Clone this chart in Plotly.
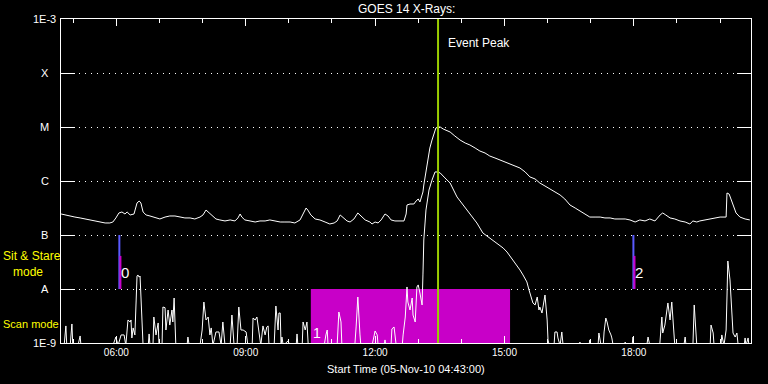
import math
import pandas as pd
import plotly.graph_objects as go

DAY = "2010-11-05"

# GOES 14 long channel (1-8 A): (hour UT, flux W/m^2)
long_xray = [
    (4.72, 2.45e-7), (4.81, 2.35e-7), (4.93, 2.25e-7), (5.04, 2.15e-7), (5.16, 2.07e-7),
    (5.27, 1.98e-7), (5.39, 1.90e-7), (5.51, 1.82e-7), (5.62, 1.74e-7), (5.74, 1.67e-7),
    (5.85, 1.67e-7), (5.92, 1.74e-7), (5.99, 2.07e-7), (6.06, 2.56e-7), (6.13, 2.67e-7),
    (6.20, 2.45e-7), (6.25, 2.67e-7), (6.32, 2.35e-7), (6.41, 2.45e-7), (6.48, 3.92e-7),
    (6.53, 4.26e-7), (6.57, 3.92e-7), (6.62, 2.67e-7), (6.69, 2.35e-7), (6.78, 2.25e-7),
    (6.90, 2.07e-7), (7.01, 1.98e-7), (7.13, 2.15e-7), (7.24, 2.25e-7), (7.36, 2.25e-7),
    (7.48, 2.15e-7), (7.59, 2.07e-7), (7.71, 2.07e-7), (7.82, 1.98e-7), (7.94, 2.15e-7),
    (8.01, 2.35e-7), (8.08, 2.90e-7), (8.13, 2.67e-7), (8.22, 2.25e-7), (8.31, 1.98e-7),
    (8.40, 1.90e-7), (8.52, 1.82e-7), (8.64, 1.90e-7), (8.75, 1.82e-7), (8.82, 2.07e-7),
    (8.87, 2.45e-7), (8.91, 2.15e-7), (8.98, 1.90e-7), (9.10, 1.82e-7), (9.22, 1.74e-7),
    (9.33, 1.82e-7), (9.45, 1.82e-7), (9.56, 1.90e-7), (9.68, 1.82e-7), (9.80, 1.74e-7),
    (9.91, 1.74e-7), (10.03, 1.74e-7), (10.14, 1.67e-7), (10.26, 1.90e-7), (10.33, 2.45e-7),
    (10.40, 3.16e-7), (10.44, 2.90e-7), (10.51, 2.35e-7), (10.61, 1.98e-7), (10.72, 1.90e-7),
    (10.84, 1.74e-7), (10.95, 1.60e-7), (11.05, 1.67e-7), (11.12, 1.82e-7), (11.19, 2.35e-7),
    (11.26, 2.07e-7), (11.35, 1.82e-7), (11.42, 1.74e-7), (11.51, 1.98e-7), (11.60, 2.56e-7),
    (11.67, 2.25e-7), (11.77, 1.90e-7), (11.88, 1.74e-7), (11.93, 1.60e-7), (12.00, 1.74e-7),
    (12.07, 1.67e-7), (12.14, 1.90e-7), (12.23, 2.45e-7), (12.30, 2.25e-7), (12.37, 1.90e-7),
    (12.46, 1.82e-7), (12.58, 1.82e-7), (12.67, 1.82e-7), (12.72, 2.45e-7), (12.74, 3.59e-7),
    (12.81, 3.75e-7), (12.90, 3.75e-7), (12.95, 4.26e-7), (13.00, 4.64e-7), (13.04, 4.08e-7),
    (13.07, 5.06e-7), (13.11, 6.26e-7), (13.13, 8.43e-7), (13.18, 1.60e-6), (13.23, 2.67e-6),
    (13.27, 4.08e-6), (13.32, 5.74e-6), (13.37, 7.74e-6), (13.41, 9.58e-6), (13.46, 1.00e-5),
    (13.51, 1.00e-5), (13.58, 9.18e-6), (13.65, 8.80e-6), (13.74, 8.08e-6), (13.85, 6.81e-6),
    (13.97, 5.74e-6), (14.09, 5.05e-6), (14.20, 4.64e-6), (14.32, 4.08e-6), (14.43, 3.59e-6),
    (14.55, 3.30e-6), (14.66, 2.90e-6), (14.78, 2.67e-6), (14.90, 2.45e-6), (15.01, 2.25e-6),
    (15.13, 2.07e-6), (15.25, 1.90e-6), (15.36, 1.74e-6), (15.48, 1.47e-6), (15.59, 1.19e-6),
    (15.71, 1.09e-6), (15.82, 9.18e-7), (15.94, 8.08e-7), (16.06, 7.11e-7), (16.17, 6.26e-7),
    (16.29, 5.51e-7), (16.40, 4.64e-7), (16.52, 3.59e-7), (16.64, 3.16e-7), (16.75, 2.78e-7),
    (16.87, 2.45e-7), (16.98, 2.15e-7), (17.10, 2.15e-7), (17.22, 2.15e-7), (17.33, 2.07e-7),
    (17.45, 2.07e-7), (17.56, 1.98e-7), (17.68, 1.98e-7), (17.80, 1.98e-7), (17.91, 1.90e-7),
    (18.03, 1.74e-7), (18.14, 1.90e-7), (18.26, 1.82e-7), (18.37, 1.98e-7), (18.49, 1.82e-7),
    (18.61, 2.35e-7), (18.67, 2.56e-7), (18.74, 2.35e-7), (18.84, 2.07e-7), (18.95, 1.98e-7),
    (19.07, 1.82e-7), (19.19, 1.74e-7), (19.30, 1.60e-7), (19.37, 1.82e-7), (19.46, 1.74e-7),
    (19.53, 1.82e-7), (19.65, 1.90e-7), (19.77, 1.98e-7), (19.88, 2.07e-7), (20.00, 2.15e-7),
    (20.14, 2.15e-7), (20.16, 6.00e-7), (20.21, 5.74e-7), (20.28, 3.92e-7), (20.37, 2.56e-7),
    (20.46, 2.15e-7), (20.58, 1.98e-7), (20.69, 1.90e-7),
]

# GOES 14 short channel (0.5-4 A): (hour UT, flux W/m^2); 9e-10 = below the plot floor
short_xray = [
    (4.72, 9e-10), (4.79, 9e-10), (4.83, 2.07e-9), (4.85, 9e-10), (4.93, 9e-10), (4.97, 2.25e-9),
    (4.99, 9e-10), (5.11, 9e-10), (5.16, 1.35e-9), (5.18, 9e-10), (5.92, 9e-10), (5.99, 1.29e-9),
    (6.04, 9e-10), (6.11, 1.41e-9), (6.18, 1.41e-9), (6.22, 9e-10), (6.27, 2.67e-9), (6.32, 2.45e-9),
    (6.34, 2.67e-9), (6.36, 1.24e-9), (6.39, 1.90e-9), (6.43, 1.41e-9), (6.46, 6.25e-9), (6.48, 1.74e-8),
    (6.50, 1.82e-8), (6.53, 1.66e-8), (6.55, 1.74e-8), (6.57, 7.74e-9), (6.60, 1.74e-9), (6.62, 9e-10),
    (6.74, 9e-10), (6.76, 1.47e-9), (6.78, 9e-10), (6.85, 9e-10), (6.87, 3.03e-9), (6.92, 1.41e-9),
    (6.97, 2.35e-9), (6.99, 9e-10), (7.06, 9e-10), (7.08, 4.64e-9), (7.13, 4.50e-9), (7.15, 1.74e-9),
    (7.20, 4.08e-9), (7.24, 2.15e-9), (7.29, 4.08e-9), (7.31, 2.45e-9), (7.34, 6.81e-9), (7.38, 9e-10),
    (7.64, 9e-10), (7.66, 1.29e-9), (7.69, 9e-10), (7.94, 9e-10), (7.99, 1.74e-9), (8.03, 5.74e-9),
    (8.08, 2.67e-9), (8.13, 3.03e-9), (8.17, 1.41e-9), (8.20, 1.90e-9), (8.24, 9e-10), (8.31, 1.60e-9),
    (8.38, 1.60e-9), (8.43, 9e-10), (8.47, 2.45e-9), (8.52, 9e-10), (8.64, 9e-10), (8.68, 3.30e-9),
    (8.73, 9e-10), (8.80, 9e-10), (8.84, 4.64e-9), (8.89, 1.74e-9), (8.94, 1.74e-9), (9.01, 1.60e-9),
    (9.05, 9e-10), (9.15, 9e-10), (9.17, 2.90e-9), (9.22, 2.67e-9), (9.26, 3.03e-9), (9.31, 1.41e-9),
    (9.35, 9e-10), (9.40, 2.07e-9), (9.45, 1.41e-9), (9.49, 1.98e-9), (9.52, 2.07e-9), (9.54, 9e-10),
    (9.66, 9e-10), (9.70, 4.84e-9), (9.75, 1.74e-9), (9.77, 3.59e-9), (9.80, 3.59e-9), (9.82, 9e-10),
    (9.84, 1.29e-9), (9.87, 9e-10), (9.98, 1.09e-9), (10.03, 9e-10), (10.17, 9e-10), (10.19, 1.47e-9),
    (10.21, 9e-10), (10.31, 9e-10), (10.33, 2.45e-9), (10.38, 1.74e-9), (10.42, 2.45e-9), (10.45, 9e-10),
    (10.82, 9e-10), (10.86, 1.41e-9), (10.89, 1.74e-9), (10.91, 9e-10), (11.12, 9e-10), (11.16, 3.75e-9),
    (11.21, 2.45e-9), (11.23, 9e-10), (11.53, 9e-10), (11.56, 1.98e-9), (11.60, 7.11e-9), (11.65, 1.41e-9),
    (11.67, 9e-10), (11.93, 9e-10), (11.95, 1.09e-9), (12.00, 1.67e-9), (12.05, 1.41e-9), (12.07, 9e-10),
    (12.21, 9e-10), (12.23, 1.14e-9), (12.25, 9e-10), (12.37, 9e-10), (12.39, 1.82e-9), (12.44, 1.98e-9),
    (12.49, 9e-10), (12.63, 9e-10), (12.65, 1.41e-9), (12.70, 3.03e-9), (12.74, 1.09e-8), (12.76, 5.74e-9),
    (12.81, 4.08e-9), (12.86, 6.81e-9), (12.88, 3.30e-9), (12.93, 2.45e-9), (12.97, 1.09e-8), (13.00, 1.19e-8),
    (13.04, 8.43e-9), (13.09, 5.06e-9), (13.11, 1.82e-8), (13.13, 8.08e-8), (13.18, 2.90e-7), (13.25, 6.81e-7),
    (13.32, 1.04e-6), (13.39, 1.47e-6), (13.44, 1.47e-6), (13.51, 1.41e-6), (13.62, 1.14e-6), (13.74, 9.18e-7),
    (13.90, 5.06e-7), (14.13, 2.90e-7), (14.36, 1.67e-7), (14.50, 1.09e-7), (14.66, 8.80e-8), (14.83, 7.11e-8),
    (14.97, 5.74e-8), (15.06, 4.84e-8), (15.20, 3.45e-8), (15.29, 2.78e-8), (15.36, 2.25e-8), (15.43, 1.82e-8),
    (15.52, 1.35e-8), (15.57, 9.58e-9), (15.61, 7.42e-9), (15.66, 5.51e-9), (15.71, 5.06e-9), (15.76, 7.11e-9),
    (15.80, 4.08e-9), (15.82, 4.64e-9), (15.87, 3.59e-9), (15.94, 7.74e-9), (15.99, 2.67e-9), (16.01, 1.14e-9),
    (16.04, 9e-10), (16.15, 9e-10), (16.17, 1.60e-9), (16.22, 1.60e-9), (16.24, 1.24e-9), (16.29, 9e-10),
    (16.33, 1.60e-9), (16.36, 9e-10), (16.73, 9e-10), (16.75, 1.04e-9), (16.77, 9e-10), (16.96, 9e-10),
    (16.98, 1.14e-9), (17.01, 9e-10), (17.17, 9e-10), (17.19, 1.53e-9), (17.24, 9e-10), (17.29, 9e-10),
    (17.31, 1.60e-9), (17.35, 2.90e-9), (17.38, 2.45e-9), (17.42, 1.74e-9), (17.47, 1.41e-9), (17.49, 1.24e-9),
    (17.52, 9e-10), (17.77, 9e-10), (17.80, 1.04e-9), (17.82, 9e-10), (17.96, 9e-10), (17.98, 1.29e-9),
    (18.00, 9e-10), (18.30, 9e-10), (18.33, 1.29e-9), (18.37, 9e-10), (18.60, 9e-10), (18.63, 1.60e-9),
    (18.65, 3.03e-9), (18.67, 1.53e-9), (18.72, 2.15e-9), (18.79, 5.51e-9), (18.84, 2.67e-9), (18.88, 5.74e-9),
    (18.93, 1.90e-9), (18.95, 9e-10), (19.16, 9e-10), (19.19, 1.29e-9), (19.21, 9e-10), (19.37, 9e-10),
    (19.40, 5.06e-9), (19.44, 1.90e-9), (19.46, 9e-10), (19.77, 9e-10), (19.79, 2.15e-9), (19.84, 1.53e-9),
    (19.86, 9e-10), (20.02, 9e-10), (20.04, 1.41e-9), (20.09, 9e-10), (20.14, 1.74e-9), (20.16, 7.11e-9),
    (20.18, 3.30e-8), (20.23, 1.47e-8), (20.25, 6.25e-9), (20.28, 2.35e-9), (20.30, 1.53e-9), (20.35, 1.29e-9),
    (20.39, 1.53e-9), (20.42, 9e-10), (20.56, 9e-10), (20.58, 1.24e-9), (20.60, 9e-10), (20.65, 1.24e-9),
    (20.67, 9e-10), (20.69, 9e-10),
]

y_tick_values = [1e-9, 1e-8, 1e-7, 1e-6, 1e-5, 1e-4, 1e-3]
y_tick_labels = ["1E-9", "A", "B", "C", "M", "X", "1E-3"]
x_range_hours = [4.717, 20.717]
event_peak_hour = 13.46
scan_mode_hours = [10.51, 15.13]
scan_mode_label = "1"
stare_hours = [6.07, 17.99]
stare_labels = ["0", "2"]
stare_flux_top = 1e-7
stare_flux_mid = 4.1e-8
mode_flux_bottom = 1e-8
plot_floor = 1e-9
plot_ceiling = 1e-3

WHITE = "#ffffff"
YELLOW = "#ffff00"
MAGENTA = "#c800c8"
BLUE = "#5a5aff"
GREEN = "#9acd00"
FONT = "Liberation Sans"


def t(hours):
    idx = pd.Timestamp(DAY) + pd.to_timedelta(list(hours), unit="h")
    return [d.strftime("%Y-%m-%d %H:%M:%S") for d in idx]


fig = go.Figure()

# scan mode period (magenta block)
s0, s1 = t(scan_mode_hours)
fig.add_trace(go.Scatter(
    x=[s0, s1, s1, s0, s0],
    y=[plot_floor, plot_floor, mode_flux_bottom, mode_flux_bottom, plot_floor],
    fill="toself", fillcolor=MAGENTA, mode="lines", line=dict(width=0, color=MAGENTA),
    hoverinfo="skip", showlegend=False))

lh, lf = zip(*long_xray)
sh, sf = zip(*short_xray)
fig.add_trace(go.Scatter(x=t(lh), y=list(lf), mode="lines",
                         line=dict(color=WHITE, width=1), showlegend=False))
fig.add_trace(go.Scatter(x=t(sh), y=list(sf), mode="lines",
                         line=dict(color=WHITE, width=1), showlegend=False))

# sit & stare markers
for h in stare_hours:
    tx = t([h])[0]
    tx2 = t([h + 0.025])[0]
    fig.add_trace(go.Scatter(x=[tx, tx], y=[stare_flux_top, mode_flux_bottom], mode="lines",
                             line=dict(color=BLUE, width=2), showlegend=False))
    fig.add_trace(go.Scatter(x=[tx2, tx2], y=[stare_flux_mid, mode_flux_bottom], mode="lines",
                             line=dict(color=MAGENTA, width=2), showlegend=False))

# event peak line
ep = t([event_peak_hour])[0]
fig.add_trace(go.Scatter(x=[ep, ep], y=[plot_floor, plot_ceiling], mode="lines",
                         line=dict(color=GREEN, width=2), showlegend=False))

annotations = []
for v, lab in zip(y_tick_values, y_tick_labels):
    annotations.append(dict(x=(44.5 - 61) / 690, xref="paper", y=math.log10(v), yref="y",
                            text=lab, showarrow=False, xanchor="center", yanchor="middle",
                            font=dict(color=WHITE, size=11, family=FONT)))

annotations += [
    dict(x=0.5, xref="paper", y=(343 - 9) / 324, yref="paper", text="GOES 14 X-Rays:",
         showarrow=False, xanchor="center", yanchor="middle",
         font=dict(color=WHITE, size=12, family=FONT)),
    dict(x=0.5, xref="paper", y=(343 - 368.5) / 324, yref="paper",
         text="Start Time (05-Nov-10 04:43:00)", showarrow=False, xanchor="center",
         yanchor="middle", font=dict(color=WHITE, size=11, family=FONT)),
    dict(x=ep, xref="x", y=(343 - 42.5) / 324, yref="paper", text="Event Peak",
         showarrow=False, xanchor="left", yanchor="middle", xshift=8,
         font=dict(color=WHITE, size=12, family=FONT)),
    dict(x=(1 - 61) / 690, xref="paper", y=(343 - 264) / 324, yref="paper",
         text="Sit & Stare<br>\u00a0\u00a0\u00a0mode", align="left",
         showarrow=False, xanchor="left", yanchor="middle",
         font=dict(color=YELLOW, size=12, family=FONT)),
    dict(x=(1 - 61) / 690, xref="paper", y=(343 - 323.5) / 324, yref="paper", text="Scan mode",
         showarrow=False, xanchor="left", yanchor="middle",
         font=dict(color=YELLOW, size=11, family=FONT)),
    dict(x=s0, xref="x", y=(343 - 332.5) / 324, yref="paper", text=scan_mode_label,
         showarrow=False, xanchor="left", yanchor="middle", xshift=0,
         font=dict(color=WHITE, size=14, family=FONT)),
]
for h, lab in zip(stare_hours, stare_labels):
    annotations.append(dict(x=t([h])[0], xref="x", y=(343 - 272.5) / 324, yref="paper",
                            text=lab, showarrow=False, xanchor="left", yanchor="middle",
                            xshift=0, font=dict(color=WHITE, size=15, family=FONT)))

x0, x1 = t(x_range_hours)
fig.update_layout(
    width=768, height=384,
    margin=dict(l=61, r=17, t=19, b=41),
    paper_bgcolor="black", plot_bgcolor="black",
    showlegend=False,
    annotations=annotations,
    xaxis=dict(
        type="date", range=[x0, x1],
        tick0=DAY + " 00:00", dtick=3 * 3600000, tickformat="%H:%M",
        ticks="inside", ticklen=7, tickcolor=WHITE, tickwidth=1,
        minor=dict(dtick=3600000, ticks="inside", ticklen=4, tickcolor=WHITE, showgrid=False),
        showline=True, linecolor=WHITE, linewidth=1, mirror="ticks",
        showgrid=False, zeroline=False,
        tickfont=dict(color=WHITE, size=10, family=FONT),
    ),
    yaxis=dict(
        type="log", range=[-9, -3],
        tickvals=y_tick_values, showticklabels=False,
        ticks="inside", ticklen=14, tickcolor=WHITE, tickwidth=1,
        showline=True, linecolor=WHITE, linewidth=1, mirror="ticks",
        showgrid=True, gridcolor=WHITE, gridwidth=1, griddash="1px,5px",
        zeroline=False,
    ),
)

fig.write_html(
    "out.html",
    config={"displayModeBar": False},
    post_script="document.body.style.margin='0';document.body.style.overflow='hidden';"
                "document.body.style.background='black';",
)
